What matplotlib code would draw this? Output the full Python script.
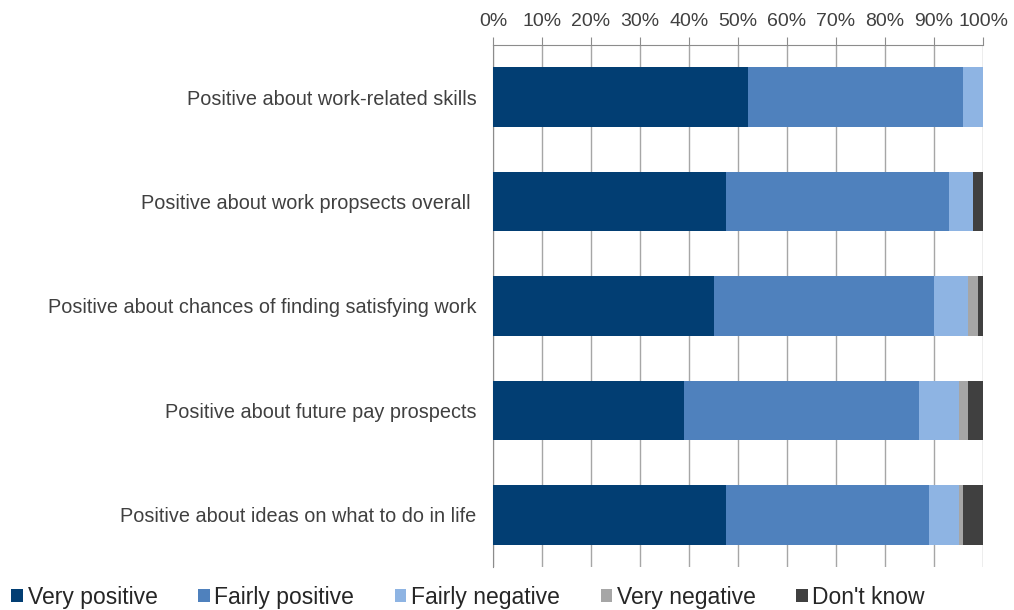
import numpy as np
import matplotlib.pyplot as plt
from matplotlib.patches import Patch

plt.rcParams['font.family'] = ['Liberation Sans', 'DejaVu Sans']

categories = [
    'Positive about work-related skills',
    'Positive about work propsects overall ',
    'Positive about chances of finding satisfying work',
    'Positive about future pay prospects',
    'Positive about ideas on what to do in life',
]
series_names = ['Very positive', 'Fairly positive', 'Fairly negative',
                'Very negative', "Don't know"]
very_positive = [52, 47.5, 45, 39, 47.5]
fairly_positive = [44, 45.5, 45, 48, 41.5]
fairly_negative = [4, 5, 7, 8, 6]
very_negative = [0, 0, 2, 2, 1]
dont_know = [0, 2, 1, 3, 4]
colors = ['#023E73', '#4F81BD', '#8EB4E3', '#A6A6A6', '#404040']

values = [very_positive, fairly_positive, fairly_negative, very_negative, dont_know]

fig = plt.figure(figsize=(10.14, 6.1), dpi=100)
ax = fig.add_axes([493 / 1014, 1 - 567 / 610, 490 / 1014, 522 / 610])

y = np.arange(len(categories))
left = np.zeros(len(categories))
for vals, col in zip(values, colors):
    v = np.array(vals, dtype=float)
    ax.barh(y, v, left=left, height=0.57, color=col, zorder=3)
    left += v

ax.set_ylim(len(categories) - 0.5, -0.5)
ax.set_xlim(0, 100)
ax.set_yticks(y)
ax.set_yticklabels(categories, fontsize=14.3, color='#404040')
ax.tick_params(axis='y', length=0, pad=12)

# percentage axis on top, gridlines down through the bars
ax.xaxis.tick_top()
ax.set_xticks(np.arange(0, 101, 10))
ax.set_xticklabels([f'{t}%' for t in range(0, 101, 10)], fontsize=14, color='#404040')
ax.tick_params(axis='x', length=6, color='#8C8C8C', pad=5)
ax.grid(axis='x', color='#A6A6A6', lw=1, zorder=0)

for s in ['right', 'bottom']:
    ax.spines[s].set_visible(False)
ax.spines['top'].set_color('#8C8C8C')
ax.spines['left'].set_color('#8C8C8C')

handles = [Patch(facecolor=c, edgecolor='none') for c in colors]
fig.legend(handles, series_names, loc='lower left', bbox_to_anchor=(-0.009, -0.032),
           ncol=5, frameon=False, fontsize=16.5, handlelength=0.5, handleheight=0.5,
           handletextpad=0.2, columnspacing=1.78, labelcolor='#262626')

fig.savefig('out.png', dpi=100)
